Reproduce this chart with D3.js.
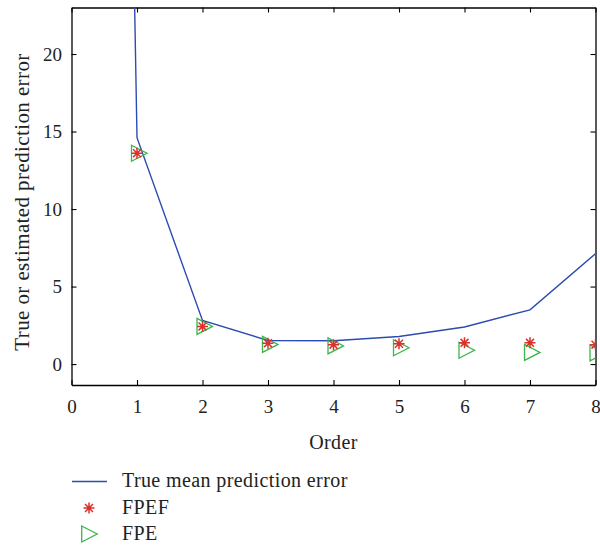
<!DOCTYPE html>
<html>
<head>
<meta charset="utf-8">
<script src="https://cdn.jsdelivr.net/npm/d3@7"></script>
<style>
  body { margin: 0; background: #fff; }
  text { font-family: "Liberation Serif", "DejaVu Serif", serif; fill: #222; }
</style>
</head>
<body>
<div id="canvas"></div>
<script>
// data
var orders = [0, 1, 2, 3, 4, 5, 6, 7, 8];
var trueErr = [250, 14.6, 2.81, 1.52, 1.50, 1.78, 2.39, 3.50, 7.12];
var fpefOrders = [1, 2, 3, 4, 5, 6, 7, 8];
var fpef = [13.6, 2.43, 1.35, 1.25, 1.31, 1.37, 1.37, 1.25];
var fpe = [13.6, 2.43, 1.27, 1.17, 1.05, 0.89, 0.75, 0.72];
var xTicks = [0, 1, 2, 3, 4, 5, 6, 7, 8];
var yTicks = [0, 5, 10, 15, 20];
var legendLabels = ["True mean prediction error", "FPEF", "FPE"];

var W = 600, H = 545;
// plot box edges (window.top is read-only, so keep own names)
var pLeft = 71.5, pRight = 595.5, pTop = 7.5, pBottom = 385;

var blue = "#2b4cb0", red = "#d9312b", green = "#3cb54a";

var svg = d3.select("#canvas").append("svg")
  .attr("width", W).attr("height", H);

var x = d3.scaleLinear().domain([0, 8]).range([pLeft, pRight]);
var y = d3.scaleLinear().domain([-1.35, 23]).range([pBottom, pTop]);

svg.append("defs").append("clipPath").attr("id", "clip")
  .append("rect")
  .attr("x", pLeft).attr("y", pTop)
  .attr("width", pRight - pLeft).attr("height", pBottom - pTop);

// axes, ticks pointing inward on all four sides
function styleAxis(g) {
  g.selectAll("path").attr("stroke", "#000").attr("stroke-width", 1.3);
  g.selectAll("line").attr("stroke", "#000").attr("stroke-width", 1.1);
  g.selectAll("text").style("font-size", "19px").attr("fill", "#222");
}

svg.append("g")
  .attr("transform", "translate(0," + pBottom + ")")
  .call(d3.axisBottom(x).tickValues(xTicks).tickFormat(d3.format("d"))
    .tickSizeInner(-5).tickSizeOuter(0).tickPadding(15))
  .call(styleAxis);

svg.append("g")
  .attr("transform", "translate(0," + pTop + ")")
  .call(d3.axisTop(x).tickValues(xTicks).tickFormat("")
    .tickSizeInner(-5).tickSizeOuter(0))
  .call(styleAxis);

svg.append("g")
  .attr("transform", "translate(" + pLeft + ",0)")
  .call(d3.axisLeft(y).tickValues(yTicks).tickFormat(d3.format("d"))
    .tickSizeInner(-5).tickSizeOuter(0).tickPadding(9.5))
  .call(styleAxis);

svg.append("g")
  .attr("transform", "translate(" + pRight + ",0)")
  .call(d3.axisRight(y).tickValues(yTicks).tickFormat("")
    .tickSizeInner(-5).tickSizeOuter(0))
  .call(styleAxis);

// axis titles
svg.append("text")
  .attr("x", (pLeft + pRight) / 2).attr("y", 449)
  .attr("text-anchor", "middle")
  .style("font-size", "20px")
  .style("letter-spacing", "0.4px")
  .text("Order");

svg.append("text")
  .attr("transform", "translate(29,202) rotate(-90)")
  .attr("text-anchor", "middle")
  .style("font-size", "21px")
  .style("letter-spacing", "0.4px")
  .text("True or estimated prediction error");

var plot = svg.append("g").attr("clip-path", "url(#clip)");

// true mean prediction error
var line = d3.line()
  .x(function(d, i) { return x(orders[i]); })
  .y(function(d) { return y(d); });

plot.append("path")
  .datum(trueErr)
  .attr("d", line)
  .attr("fill", "none")
  .attr("stroke", blue)
  .attr("stroke-width", 1.4);

// marker shapes
function starPath(r) {
  var a = r * 0.72;
  return "M" + (-r) + ",0H" + r + "M0," + (-r) + "V" + r +
    "M" + (-a) + "," + (-a) + "L" + a + "," + a +
    "M" + (-a) + "," + a + "L" + a + "," + (-a);
}
function triPath() {
  return "M-5.5,-8L10,0L-5.5,8Z";
}

// FPE triangles
plot.selectAll(".fpe")
  .data(fpe)
  .enter().append("path")
  .attr("class", "fpe")
  .attr("transform", function(d, i) {
    return "translate(" + x(fpefOrders[i]) + "," + y(d) + ")";
  })
  .attr("d", triPath())
  .attr("fill", "none")
  .attr("stroke", green)
  .attr("stroke-width", 1.3);

// FPEF stars
plot.selectAll(".fpef")
  .data(fpef)
  .enter().append("path")
  .attr("class", "fpef")
  .attr("transform", function(d, i) {
    return "translate(" + x(fpefOrders[i]) + "," + y(d) + ")";
  })
  .attr("d", starPath(5.5))
  .attr("fill", "none")
  .attr("stroke", red)
  .attr("stroke-width", 1.5);

// legend
var lg = svg.append("g");
lg.append("line")
  .attr("x1", 72).attr("x2", 107).attr("y1", 481.5).attr("y2", 481.5)
  .attr("stroke", blue).attr("stroke-width", 1.4);
lg.append("path")
  .attr("transform", "translate(89,508)")
  .attr("d", starPath(5.5))
  .attr("fill", "none").attr("stroke", red).attr("stroke-width", 1.5);
lg.append("path")
  .attr("transform", "translate(87.2,534)")
  .attr("d", triPath())
  .attr("fill", "none").attr("stroke", green).attr("stroke-width", 1.3);

lg.selectAll(".lgtext")
  .data(legendLabels)
  .enter().append("text")
  .attr("class", "lgtext")
  .attr("x", 122)
  .attr("y", function(d, i) { return 487 + i * 26.5; })
  .style("font-size", "20px")
  .style("letter-spacing", "0.4px")
  .text(function(d) { return d; });
</script>
</body>
</html>
